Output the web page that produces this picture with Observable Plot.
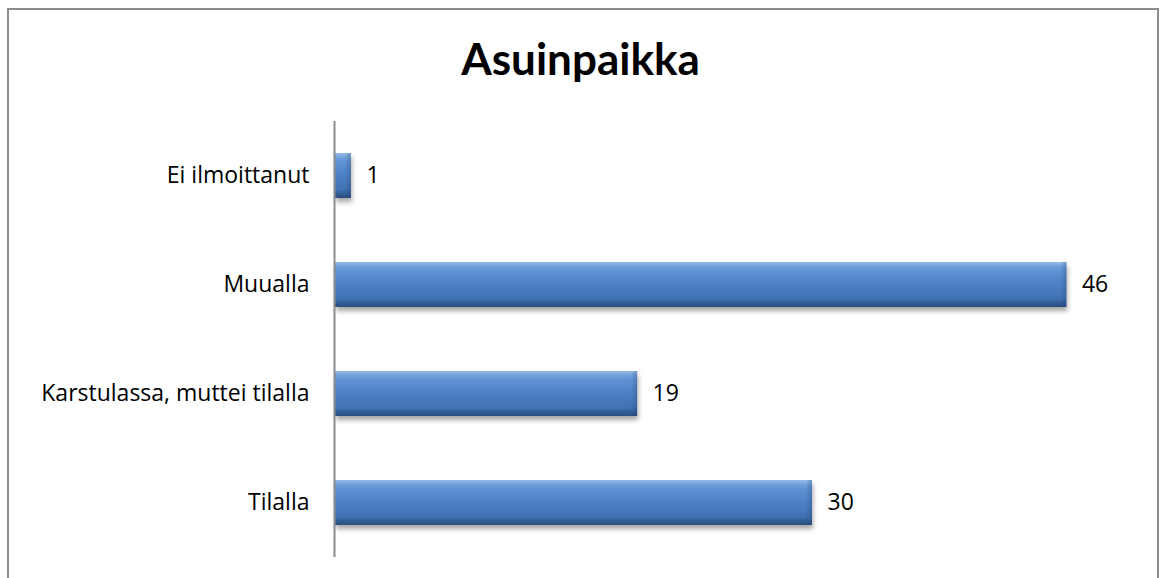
<!DOCTYPE html>
<html><head><meta charset="utf-8">
<script src="https://cdn.jsdelivr.net/npm/d3@7"></script>
<script src="https://cdn.jsdelivr.net/npm/@observablehq/plot@0.6"></script>
<style>
html,body{margin:0;padding:0;background:#fff;overflow:hidden;}
#wrap{position:relative;width:1161px;height:578px;}
#frame{position:absolute;left:7px;top:8px;width:1152px;height:600px;border:2px solid #8c8c8c;box-sizing:border-box;}
#title{position:absolute;left:0;width:1161px;top:32px;text-align:center;font-family:Lato,"Open Sans",sans-serif;font-weight:bold;font-size:44px;color:#000;line-height:52px;}
#chart{position:absolute;left:0;top:0;}
</style></head>
<body><div id="wrap"><div id="frame"></div><div id="title">Asuinpaikka</div><div id="chart"></div></div>
<script>
const categories = ["Ei ilmoittanut", "Muualla", "Karstulassa, muttei tilalla", "Tilalla"];
const values = [1, 46, 19, 30];
const data = categories.map((c, i) => ({category: c, value: values[i]}));

const chart = Plot.plot({
  width: 1161,
  height: 578,
  marginTop: 121,
  marginBottom: 21,
  marginLeft: 335,
  marginRight: 31,
  style: {fontFamily: "'Open Sans', 'Noto Sans', sans-serif", fontSize: "23px", background: "transparent", overflow: "visible"},
  x: {domain: [0, 50], axis: null},
  y: {domain: categories, paddingInner: 0.585, paddingOuter: 0.2925, axis: null},
  marks: [
    Plot.barX(data, {y: "category", x: "value", fill: "rgba(0,0,0,0.35)", dy: 4, dx: 1}),
    Plot.barX(data, {y: "category", x: "value", fill: "url(#barGrad)"}),
    Plot.barX(data, {y: "category", x: "value", fill: "url(#barTop)"}),
    Plot.barX(data, {y: "category", x1: d => d.value - 0.4, x2: "value", fill: "url(#barRight)"}),
    Plot.ruleX([0], {stroke: "#8c8c8c", strokeWidth: 2, dx: -1}),
    Plot.text(data, {y: "category", x: "value", text: d => String(d.value), textAnchor: "start", dx: 15, fill: "#000", fontSize: 23}),
    Plot.text(data, {y: "category", x: 0, text: "category", textAnchor: "end", dx: -26, fill: "#000", fontSize: 23})
  ]
});

const ns = "http://www.w3.org/2000/svg";
const defs = document.createElementNS(ns, "defs");
defs.innerHTML = `
<filter id="blur" x="-10%" y="-50%" width="120%" height="200%"><feGaussianBlur stdDeviation="2.5"/></filter>
<linearGradient id="barGrad" x1="0" y1="0" x2="0" y2="1">
  <stop offset="0" stop-color="#7eaae2"/>
  <stop offset="0.1" stop-color="#5e93d6"/>
  <stop offset="0.45" stop-color="#4a80c6"/>
  <stop offset="0.82" stop-color="#3e70b2"/>
  <stop offset="0.9" stop-color="#315d96"/>
  <stop offset="1" stop-color="#2a4f80"/>
</linearGradient>
<linearGradient id="barTop" x1="0" y1="0" x2="0" y2="1">
  <stop offset="0" stop-color="#ffffff" stop-opacity="0.2"/>
  <stop offset="0.2" stop-color="#ffffff" stop-opacity="0.04"/>
  <stop offset="1" stop-color="#ffffff" stop-opacity="0"/>
</linearGradient>
<linearGradient id="barRight" x1="0" y1="0" x2="1" y2="0">
  <stop offset="0" stop-color="#1f3f6a" stop-opacity="0"/>
  <stop offset="1" stop-color="#1f3f6a" stop-opacity="0.3"/>
</linearGradient>`;
chart.insertBefore(defs, chart.firstChild);
const barGroups = chart.querySelectorAll("g[aria-label='bar']");
if (barGroups.length) barGroups[0].setAttribute("filter", "url(#blur)");
document.getElementById("chart").appendChild(chart);
</script></body></html>
